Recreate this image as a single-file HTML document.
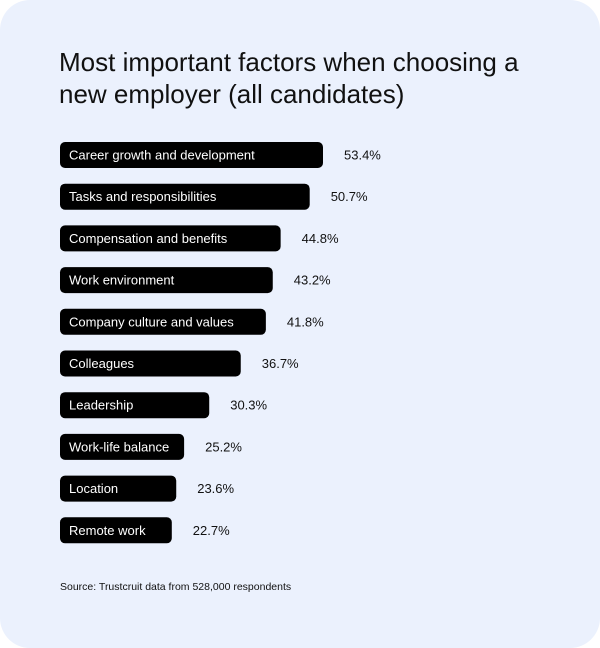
<!DOCTYPE html>
<html><head><meta charset="utf-8">
<style>
html,body{margin:0;padding:0;background:#fff;}
body{width:600px;height:648px;position:relative;overflow:hidden;font-family:"Liberation Sans",sans-serif;}
.card{position:absolute;left:0;top:0;width:600px;height:648px;background:#ebf1fd;border-radius:30px;}
.title{position:absolute;left:59px;top:46px;font-size:26px;line-height:32px;color:#111;}
.src{position:absolute;left:60px;top:581px;font-size:10.5px;color:#111;}
</style></head>
<body>
<div class="card"></div>
<div class="title">Most important factors when choosing a<br>new employer (all candidates)</div>
<svg id="chart" width="600" height="648" style="position:absolute;left:0;top:0"></svg>
<div class="src">Source: Trustcruit data from 528,000 respondents</div>
<script>
const categories = ["Career growth and development","Tasks and responsibilities","Compensation and benefits","Work environment","Company culture and values","Colleagues","Leadership","Work-life balance","Location","Remote work"];
const values = [53.4,50.7,44.8,43.2,41.8,36.7,30.3,25.2,23.6,22.7];
const valueLabels = ["53.4%","50.7%","44.8%","43.2%","41.8%","36.7%","30.3%","25.2%","23.6%","22.7%"];
const NS="http://www.w3.org/2000/svg";
const svg=document.getElementById('chart');
const x0=60, pxPer=263/53.4;
function xScale(v){return x0+v*pxPer;}
function yScale(i){return 142+i*41.7;}
const barH=26;
categories.forEach((c,i)=>{
  const y=yScale(i), xe=xScale(values[i]);
  const r=document.createElementNS(NS,'rect');
  r.setAttribute('x',x0);r.setAttribute('y',y);r.setAttribute('width',xe-x0);r.setAttribute('height',barH);
  r.setAttribute('rx',5);r.setAttribute('fill','#000');
  
  
  svg.appendChild(r);
  const t=document.createElementNS(NS,'text');
  t.setAttribute('x',x0+9);t.setAttribute('y',y+17.5);t.setAttribute('fill','#fff');t.setAttribute('font-size','13');
  t.setAttribute('font-family','Liberation Sans, sans-serif');
  t.textContent=c;
  
  
  svg.appendChild(t);
  const v=document.createElementNS(NS,'text');
  v.setAttribute('x',xe+21);v.setAttribute('y',y+17.5);v.setAttribute('fill','#111');v.setAttribute('font-size','13');
  v.setAttribute('font-family','Liberation Sans, sans-serif');
  v.textContent=valueLabels[i];
  
  
  svg.appendChild(v);
});
</script>
</body></html>
